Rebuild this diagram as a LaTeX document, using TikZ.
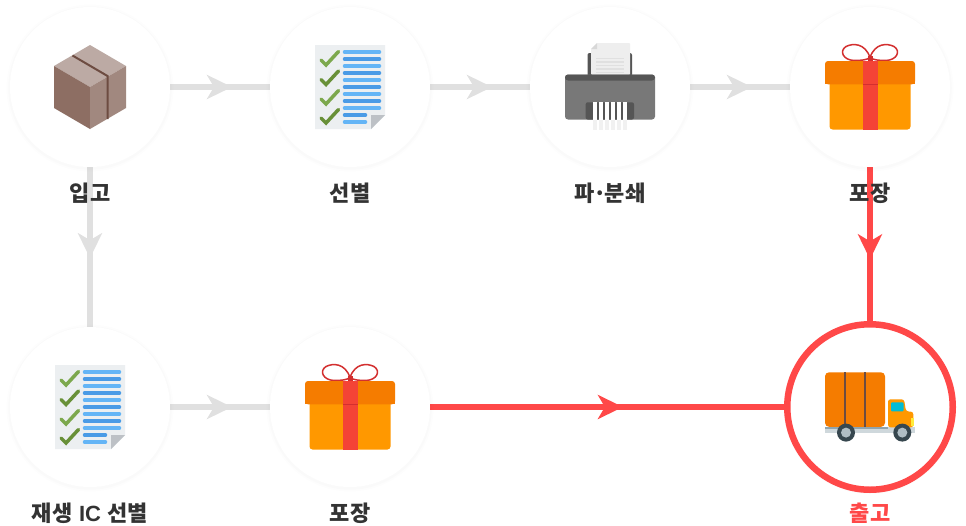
\documentclass[tikz,border=0pt]{standalone}
\usepackage{fontspec}
\newfontfamily\krfont{Noto Sans CJK KR}
\newfontfamily\latinfont{Liberation Sans}
\usetikzlibrary{arrows.meta,decorations.markings,backgrounds}
\definecolor{greyline}{HTML}{E0E0E0}
\definecolor{redline}{HTML}{FF4848}
\definecolor{labeltext}{HTML}{333333}
\tikzset{
  flow/.style n args={2}{line width=6pt,draw=#1,postaction={decorate},
    decoration={markings,mark=at position #2 with {\arrow[#1]{Stealth[length=25pt,width=24pt,inset=7pt]}}}},
  stepcircle/.style={circle,fill=white,minimum size=160pt,inner sep=0pt,outer sep=0pt,
    preaction={draw=black,draw opacity=.008,line width=7pt,transform canvas={yshift=-1pt}},
    preaction={draw=black,draw opacity=.01,line width=3.5pt,transform canvas={yshift=-1pt}}},
  endcircle/.style={stepcircle,draw=redline,line width=6.5pt,minimum size=165.5pt},
  steplabel/.style={font=\krfont\bfseries\fontsize{22}{26}\selectfont,text=labeltext,inner sep=0pt},
  boxicon/.pic={
    \fill[fill=boxtop] (0,21)--(36,0)--(72,21)--(36,42)--cycle;
    \fill[fill=boxleft] (0,21)--(36,42)--(36,84)--(0,63)--cycle;
    \fill[fill=boxright] (36,42)--(72,21)--(72,63)--(36,84)--cycle;
    \draw[boxtape,line width=2pt] (18.5,10.5)--(53.5,31)--(53.5,74);
  },
  listicon/.pic={
    \fill[fill=paper] (0,0)--(70,0)--(70,70)--(56,84)--(0,84)--cycle;
    \fill[fill=foldgrey] (70,70)--(56,70)--(56,84)--cycle;
    \foreach \yy/\cc in {7/lightblue,14/midblue,21/lightblue,28/midblue,35/lightblue,42/midblue,49/lightblue,56/midblue,63/lightblue}
      \draw[\cc,line width=3.5pt,line cap=round] (29.5,\yy)--(64.5,\yy);
    \draw[midblue,line width=3.5pt,line cap=round] (29.5,70)--(50.5,70);
    \draw[lightblue,line width=3.5pt,line cap=round] (29.5,77)--(50.5,77);
    \foreach \yy/\cc in {0/lightcheck,19.5/darkcheck,39/lightcheck,58/darkcheck}
      \draw[\cc,line width=3.5pt,line cap=round] (6,15+\yy)--(11,20+\yy)--(23.5,6.5+\yy);
  },
  shreddericon/.pic={
    \fill[fill=darkgrey,rounded corners=2pt] (22.5,8)rectangle(67,32);
    \fill[fill=papergrey,rounded corners=1pt] (26,4)--(32,-2)--(65,-2)--(65,30)--(26,30)--cycle;
    \fill[fill=foldlight] (26,4)--(32,-2)--(32,4)--cycle;
    \foreach \yy in {13.5,17,20.5,24,27.5}
      \draw[greyline,line width=1.2pt] (31,\yy)--(59,\yy);
    \fill[fill=midgrey,rounded corners=3pt] (0,29.5)rectangle(90,74.5);
    \fill[fill=darkgrey,rounded corners=3pt] (0,29.5)--(0,35.5)--(90,35.5)--(90,29.5)--cycle;
    \fill[fill=darkgrey,rounded corners=2pt] (20.7,57.3)rectangle(69,74.5);
    \foreach \xx in {28.3,34.3,40.3,46.3,52.3,58.3}{
      \fill[white] (\xx,57.3)rectangle(\xx+3.6,74.5);
      \fill[fill=shredlight] (\xx,74.5)rectangle(\xx+3.6,85);
    }
  },
  gifticon/.pic={
    \draw[bowred,line width=1.5pt] (45,12.5) .. controls (40,-2) and (28,-2) .. (21,1.5) .. controls (14,6) and (18,15) .. (29,15.5) .. controls (36,15.5) and (42,15) .. (45,12.5);
    \draw[bowred,line width=1.5pt] (45,12.5) .. controls (50,-2) and (62,-2) .. (69,1.5) .. controls (76,6) and (72,15) .. (61,15.5) .. controls (54,15.5) and (48,15) .. (45,12.5);
    \fill[bowred] (42.5,10.5) rectangle (47.5,17);
    \fill[fill=giftbody,rounded corners=3pt] (4.5,30)--(4.5,84.5)--(85.5,84.5)--(85.5,30)--cycle;
    \fill[fill=giftlid,rounded corners=3pt] (0,39.3)--(0,16)--(90,16)--(90,39.3)--cycle;
    \fill[fill=giftlid] (0,30) rectangle (90,39.3);
    \fill[fill=ribbon] (37.5,16) rectangle (52.5,84.5);
    \draw[bowred,line width=.8pt] (37.5,39.6)--(52.5,39.6);
  },
  truckicon/.pic={
    \fill[fill=giftlid,rounded corners=4pt] (0,54.5)--(0,0)--(60,0)--(60,54.5)--cycle;
    \draw[barbrown,line width=1.5pt] (20,0)--(20,54.5) (40,0)--(40,54.5);
    \fill[fill=chassislight] (0,54.5) rectangle (90,60.5);
    \fill[fill=chassisdark] (0,54.5) rectangle (63,57);
    \fill[fill=giftbody,rounded corners=2.5pt] (63,55)--(63,27)--(79,27)--(81,39)--(88.3,39.5)--(88.3,55)--cycle;
    \fill[fill=headlight] (86,45.5) rectangle (89,54);
    \fill[fill=windowcyan,rounded corners=1pt] (66,30) rectangle (78.5,39);
    \foreach \xx in {21,77.3}{
      \fill[fill=wheeldark] (\xx,60.3) circle[radius=9pt];
      \fill[fill=wheellight] (\xx,60.3) circle[radius=5pt];
    }
  }
}
\definecolor{boxtop}{HTML}{BCAAA4}
\definecolor{boxleft}{HTML}{8D6E63}
\definecolor{boxright}{HTML}{A1887F}
\definecolor{boxtape}{HTML}{6D4C41}
\definecolor{paper}{HTML}{ECEFF1}
\definecolor{foldgrey}{HTML}{BDC1C6}
\definecolor{lightblue}{HTML}{64B5F6}
\definecolor{midblue}{HTML}{4A9BE6}
\definecolor{lightcheck}{HTML}{7CA84D}
\definecolor{darkcheck}{HTML}{689038}
\definecolor{darkgrey}{HTML}{555555}
\definecolor{midgrey}{HTML}{787878}
\definecolor{papergrey}{HTML}{EEEEEE}
\definecolor{foldlight}{HTML}{D8D8D8}
\definecolor{shredlight}{HTML}{F1F1F1}
\definecolor{bowred}{HTML}{D32F2F}
\definecolor{giftbody}{HTML}{FF9800}
\definecolor{giftlid}{HTML}{F57C00}
\definecolor{ribbon}{HTML}{F44336}
\definecolor{barbrown}{HTML}{6D4C41}
\definecolor{chassislight}{HTML}{CFD8DC}
\definecolor{chassisdark}{HTML}{90A4AE}
\definecolor{headlight}{HTML}{FFEB3B}
\definecolor{windowcyan}{HTML}{00BCD4}
\definecolor{wheeldark}{HTML}{37474F}
\definecolor{wheellight}{HTML}{B0BEC5}
\begin{document}
\begin{tikzpicture}[x=1pt,y=-1pt]
\useasboundingbox (0,0) rectangle (966,525);
\node[stepcircle] (intake) at (90,87) {};
\node[stepcircle] (sort) at (350,87) {};
\node[stepcircle] (shred) at (610,87) {};
\node[stepcircle] (packa) at (870,87) {};
\node[stepcircle] (resort) at (90,407) {};
\node[stepcircle] (packb) at (350,407) {};
\node[endcircle] (ship) at (870,407) {};
\begin{pgfonlayer}{background}
\draw[flow={greyline}{.62}] (intake) -- (sort);
\draw[flow={greyline}{.62}] (sort) -- (shred);
\draw[flow={greyline}{.62}] (shred) -- (packa);
\draw[flow={greyline}{.57}] (intake) -- (resort);
\draw[flow={greyline}{.62}] (resort) -- (packb);
\draw[flow={redline}{.587}] (packa) -- (ship);
\draw[flow={redline}{.54}] (packb) -- (ship);
\end{pgfonlayer}
\pic at (54,45) {boxicon};
\pic at (315,45) {listicon};
\pic at (565,45) {shreddericon};
\pic at (825,45) {gifticon};
\pic at (55,365) {listicon};
\pic at (305,365) {gifticon};
\pic at (825,372.3) {truckicon};
\node[steplabel] (lintake) at (90,193) {입고};
\node[steplabel] (lsort) at (350,193) {선별};
\node[steplabel] (lshred) at (610,193) {파\kern-1.5pt·\kern-2pt분쇄};
\node[steplabel] (lpacka) at (870,193) {포장};
\node[steplabel] (lresort) at (90,513) {재생\kern1.5pt\ {\latinfont\bfseries IC}\ \kern1.5pt선별};
\node[steplabel] (lpackb) at (350,513) {포장};
\node[steplabel,text=redline] (lship) at (870,513) {출고};
\end{tikzpicture}
\end{document}
